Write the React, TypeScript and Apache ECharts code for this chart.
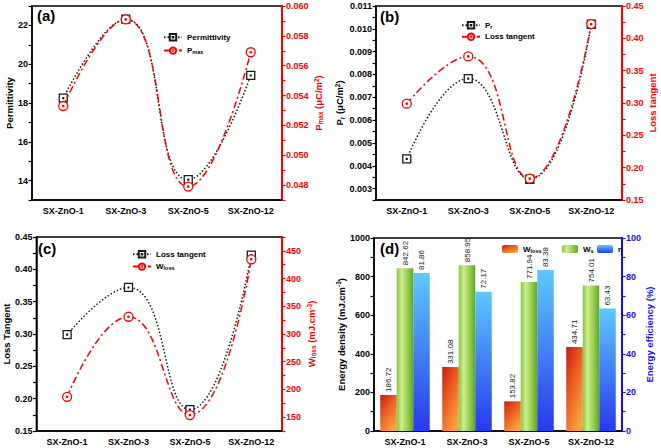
import React, { useEffect, useRef } from 'react';
import * as echarts from 'echarts';

const categories = ['SX-ZnO-1', 'SX-ZnO-3', 'SX-ZnO-5', 'SX-ZnO-12'];
const permittivity = [18.25, 22.32, 14.05, 19.42];
const pMax = [0.0533, 0.0591, 0.0479, 0.0569];
const pR = [0.0043, 0.00782, 0.00341, 0.0102];
const lossTangent = [0.299, 0.372, 0.183, 0.422];
const wLoss = [186.72, 331.08, 153.82, 434.71];
const wS = [842.62, 858.95, 771.94, 754.01];
const efficiency = [81.86, 72.17, 83.38, 63.43];

const FONT = 'Liberation Sans';
const RED = '#ff0000';
const BLUE = '#1010ff';

const circleSym = 'path://M10,0A10,10,0,1,1,10,20A10,10,0,1,1,10,0ZM10,8.5A1.5,1.5,0,1,1,10,11.5A1.5,1.5,0,1,1,10,8.5Z';
const squareSym = 'path://M0,0H20V20H0ZM9,9H11V11H9Z';

function stepFmt(step: number, digits: number) {
  return (v: number) => {
    const r = v / step;
    return Math.abs(r - Math.round(r)) < 1e-6 ? v.toFixed(digits) : '';
  };
}

function richFor(color: string, size: number) {
  return {
    sub: { fontSize: size * 0.68, fontWeight: 'bold', fontFamily: FONT, color, padding: [size * 0.45, 0, 0, 0] },
    sup: { fontSize: size * 0.68, fontWeight: 'bold', fontFamily: FONT, color, padding: [0, 0, size * 0.45, 0] },
  };
}

function yAxis(opts: any) {
  const color = opts.color;
  return {
    type: 'value',
    gridIndex: opts.grid,
    position: opts.position,
    min: opts.min,
    max: opts.max,
    interval: opts.interval,
    name: opts.name,
    nameLocation: 'middle',
    nameGap: opts.nameGap,
    nameTextStyle: {
      fontSize: 9.5,
      fontWeight: 'bold',
      fontFamily: FONT,
      color,
      rich: richFor(color, 9.5),
    },
    axisLine: { show: true, lineStyle: { color, width: opts.lineWidth || 1.5 } },
    axisTick: { show: true, length: 3.5, lineStyle: { color, width: 1.2 } },
    axisLabel: {
      fontSize: 9,
      fontWeight: 'bold',
      fontFamily: FONT,
      color,
      margin: 4,
      formatter: opts.fmt,
    },
    splitLine: { show: false },
  };
}

function xAxis(grid: number) {
  return {
    type: 'category',
    gridIndex: grid,
    data: categories,
    boundaryGap: true,
    axisLine: { lineStyle: { color: '#000', width: 1.5 } },
    axisTick: { alignWithLabel: true, length: 3.5, lineStyle: { color: '#000', width: 1.2 } },
    axisLabel: { fontSize: 9, fontWeight: 'bold', fontFamily: FONT, color: '#000', margin: 6 },
    splitLine: { show: false },
  };
}

function lineSeries(name: string, data: number[], x: number, y: number, kind: 'black' | 'red') {
  const isRed = kind === 'red';
  const color = isRed ? RED : '#1a1a1a';
  return {
    name,
    type: 'line',
    xAxisIndex: x,
    yAxisIndex: y,
    data,
    smooth: 0.5,
    symbol: isRed ? circleSym : squareSym,
    symbolSize: isRed ? 9 : 8,
    symbolKeepAspect: true,
    itemStyle: { color: '#fff', borderColor: color, borderWidth: 1.3 },
    lineStyle: { color, width: 1.5, type: isRed ? [7, 3, 2, 3] : [1.5, 2] },
    z: isRed ? 3 : 2,
  };
}

function legendBase(extra: any, names: string[]) {
  return Object.assign(
    {
      data: names,
      orient: 'vertical',
      itemWidth: 18,
      itemHeight: 8,
      itemGap: 4,
      selectedMode: false,
      textStyle: { fontSize: 8, fontWeight: 'bold', fontFamily: FONT, color: '#000', rich: richFor('#000', 8) },
      formatter: (n: string) => {
        const map: Record<string, string> = {
          Permittivity: 'Permittivity',
          Pmax: 'P{sub|max}',
          Pr: 'P{sub|r}',
          LossB: 'Loss tangent',
          LossC: 'Loss tangent',
          WlossC: 'W{sub|loss}',
          Wloss: 'W{sub|loss}',
          Ws: 'W{sub|s}',
          eta: 'η',
        };
        return map[n] || n;
      },
    },
    extra
  );
}

const orangeGrad = () =>
  new echarts.graphic.LinearGradient(0, 0, 0.7, 1, [
    { offset: 0, color: '#c81a0e' },
    { offset: 0.45, color: '#ea5a22' },
    { offset: 1, color: '#f8a43c' },
  ]);
const greenGrad = () =>
  new echarts.graphic.LinearGradient(0, 0, 1, 0, [
    { offset: 0, color: '#86c63c' },
    { offset: 0.3, color: '#cdee90' },
    { offset: 0.65, color: '#98cf4c' },
    { offset: 1, color: '#5ea52a' },
  ]);
const blueGrad = () =>
  new echarts.graphic.LinearGradient(0, 0, 0, 1, [
    { offset: 0, color: '#5ec9fb' },
    { offset: 1, color: '#2838ee' },
  ]);

function barLabel() {
  return {
    show: true,
    position: 'top',
    rotate: 90,
    align: 'left',
    verticalAlign: 'middle',
    distance: 3,
    fontSize: 8,
    fontFamily: FONT,
    color: '#222',
    formatter: (p: any) => Number(p.value).toFixed(2),
  };
}

export default function App() {
  const ref = useRef<HTMLDivElement>(null);
  useEffect(() => {
    if (!ref.current) return;
    const chart = echarts.init(ref.current, undefined, { renderer: 'svg' });
    const gridStyle = { show: true, borderColor: '#000', borderWidth: 1.5, backgroundColor: '#fff', containLabel: false };
    const option: any = {
      animation: false,
      backgroundColor: '#fff',
      textStyle: { fontFamily: FONT },
      grid: [
        { ...gridStyle, left: 32, top: 6, width: 250, height: 194 },
        { ...gridStyle, left: 376, top: 6, width: 246, height: 194 },
        { ...gridStyle, left: 32, top: 237, width: 250, height: 194 },
        { ...gridStyle, left: 374, top: 238, width: 248, height: 193 },
      ],
      xAxis: [xAxis(0), xAxis(1), xAxis(2), xAxis(3)],
      yAxis: [
        yAxis({ grid: 0, position: 'left', min: 13, max: 23, interval: 1, fmt: stepFmt(2, 0), color: '#000', name: 'Permittivity', nameGap: 16 }),
        yAxis({ grid: 0, position: 'right', min: 0.047, max: 0.06, interval: 0.001, fmt: stepFmt(0.002, 3), color: RED, lineWidth: 2, name: 'P{sub|max} (μC/m{sup|2})', nameGap: 31 }),
        yAxis({ grid: 1, position: 'left', min: 0.0025, max: 0.011, interval: 0.0005, fmt: stepFmt(0.001, 3), color: '#000', name: 'P{sub|r} (μC/m{sup|2})', nameGap: 31 }),
        yAxis({ grid: 1, position: 'right', min: 0.15, max: 0.45, interval: 0.025, fmt: stepFmt(0.05, 2), color: RED, lineWidth: 2, name: 'Loss tangent', nameGap: 25 }),
        yAxis({ grid: 2, position: 'left', min: 0.15, max: 0.45, interval: 0.025, fmt: stepFmt(0.05, 2), color: '#000', name: 'Loss Tangent', nameGap: 23 }),
        yAxis({ grid: 2, position: 'right', min: 125, max: 475, interval: 25, fmt: stepFmt(50, 0), color: RED, lineWidth: 2, name: 'W{sub|loss} (mJ.cm{sup|-3})', nameGap: 24 }),
        yAxis({ grid: 3, position: 'left', min: 0, max: 1000, interval: 100, fmt: stepFmt(200, 0), color: '#000', name: 'Energy density (mJ.cm{sup|-3})', nameGap: 22 }),
        yAxis({ grid: 3, position: 'right', min: 0, max: 100, interval: 10, fmt: stepFmt(20, 0), color: BLUE, lineWidth: 2, name: 'Energy efficiency (%)', nameGap: 22 }),
      ],
      legend: [
        legendBase({ left: 158, top: 28, itemGap: 5 }, ['Permittivity', 'Pmax']),
        legendBase({ left: 456, top: 16, itemGap: 3 }, ['Pr', 'LossB']),
        legendBase({ left: 127, top: 245, itemGap: 4 }, ['LossC', 'WlossC']),
        legendBase({ left: 497, top: 240, itemWidth: 16, itemHeight: 8 }, ['Wloss']),
        legendBase({ left: 557, top: 240, itemWidth: 16, itemHeight: 8 }, ['Ws']),
        legendBase({ left: 592, top: 240, itemWidth: 16, itemHeight: 8 }, ['eta']),
      ],
      series: [
        lineSeries('Permittivity', permittivity, 0, 0, 'black'),
        lineSeries('Pmax', pMax, 0, 1, 'red'),
        lineSeries('Pr', pR, 1, 2, 'black'),
        lineSeries('LossB', lossTangent, 1, 3, 'red'),
        lineSeries('LossC', lossTangent, 2, 4, 'black'),
        lineSeries('WlossC', wLoss, 2, 5, 'red'),
        { name: 'Wloss', type: 'bar', xAxisIndex: 3, yAxisIndex: 6, data: wLoss, barWidth: 16.5, barGap: '0%', itemStyle: { color: orangeGrad() }, label: barLabel() },
        { name: 'Ws', type: 'bar', xAxisIndex: 3, yAxisIndex: 6, data: wS, barWidth: 16.5, barGap: '0%', itemStyle: { color: greenGrad() }, label: barLabel() },
        { name: 'eta', type: 'bar', xAxisIndex: 3, yAxisIndex: 7, data: efficiency, barWidth: 16.5, barGap: '0%', itemStyle: { color: blueGrad() }, label: barLabel() },
      ],
      graphic: [
        { type: 'text', left: 37, top: 8, style: { text: '(a)', fontSize: 15, fontWeight: 'bold', fontFamily: FONT, fill: '#000' } },
        { type: 'text', left: 380, top: 9, style: { text: '(b)', fontSize: 15, fontWeight: 'bold', fontFamily: FONT, fill: '#000' } },
        { type: 'text', left: 38, top: 241, style: { text: '(c)', fontSize: 15, fontWeight: 'bold', fontFamily: FONT, fill: '#000' } },
        { type: 'text', left: 380, top: 241, style: { text: '(d)', fontSize: 15, fontWeight: 'bold', fontFamily: FONT, fill: '#000' } },
      ],
    };
    chart.setOption(option);
    return () => chart.dispose();
  }, []);
  return (
    <div
      ref={ref}
      style={{ position: 'fixed', left: 0, top: 0, width: 661, height: 448, background: '#fff' }}
    />
  );
}
